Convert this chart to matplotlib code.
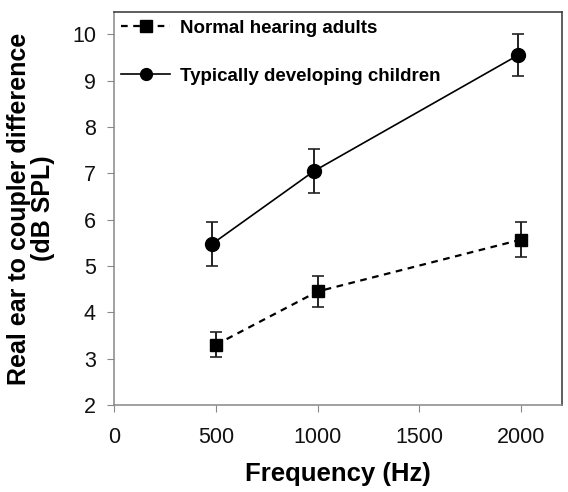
import numpy as np
import matplotlib
matplotlib.use("Agg")
import matplotlib.pyplot as plt
from matplotlib.lines import Line2D

plt.rcParams['font.family'] = ['Liberation Sans', 'DejaVu Sans']

# data
freq_adults = [500, 1000, 2000]
recd_adults = [3.30, 4.45, 5.57]
err_adults = [0.27, 0.33, 0.37]

freq_children = [480, 983, 1985]
recd_children = [5.47, 7.05, 9.55]
err_children = [0.47, 0.48, 0.45]

x_ticks = [0, 500, 1000, 1500, 2000]
y_ticks = [2, 3, 4, 5, 6, 7, 8, 9, 10]


def main():
    fig = plt.figure(figsize=(5.68, 4.92), dpi=100)
    ax = fig.add_axes([0.2007, 0.1768, 0.7887, 0.7988])

    dash = (0, (3, 2.5))
    ax.errorbar(freq_adults, recd_adults, yerr=err_adults, fmt='s', ls=dash,
                color='black', lw=1.6, ms=9, capsize=4, elinewidth=1.4,
                ecolor='#222222', capthick=1.2)
    ax.errorbar(freq_children, recd_children, yerr=err_children, fmt='o', ls='-',
                color='black', lw=1.2, ms=10, capsize=4, elinewidth=1.4,
                ecolor='#222222', capthick=1.2)

    ax.set_xlim(0, 2200)
    ax.set_ylim(2, 10.48)
    ax.set_xticks(x_ticks)
    ax.set_yticks(y_ticks)
    ax.tick_params(axis='both', direction='out', length=5, color='#888888',
                   labelsize=15.5, labelcolor='#111111')
    ax.tick_params(axis='y', pad=8)
    ax.tick_params(axis='x', pad=11)

    for s in ['left', 'bottom']:
        ax.spines[s].set_color('#888888')
    for s in ['top', 'right']:
        ax.spines[s].set_color('#333333')
    for s in ax.spines.values():
        s.set_linewidth(1.1)

    ax.set_xlabel('Frequency (Hz)', fontsize=18.5, fontweight='bold', labelpad=10)
    ax.set_ylabel('Real ear to coupler difference\n(dB SPL)', fontsize=18,
                  fontweight='bold', labelpad=12, linespacing=1.0)

    # legend without error bars
    handles = [
        Line2D([], [], color='black', ls=dash, lw=1.6, marker='s', ms=8),
        Line2D([], [], color='black', ls='-', lw=1.2, marker='o', ms=8.5),
    ]
    labels = ['Normal hearing adults', 'Typically developing children']
    ax.legend(handles, labels, loc='upper left', frameon=False,
              prop={'weight': 'bold', 'size': 13.5},
              handlelength=2.6, handletextpad=0.5, labelspacing=1.65,
              borderaxespad=0.15, borderpad=0.25)

    fig.savefig('out.png', dpi=100)


if __name__ == "__main__":
    main()
